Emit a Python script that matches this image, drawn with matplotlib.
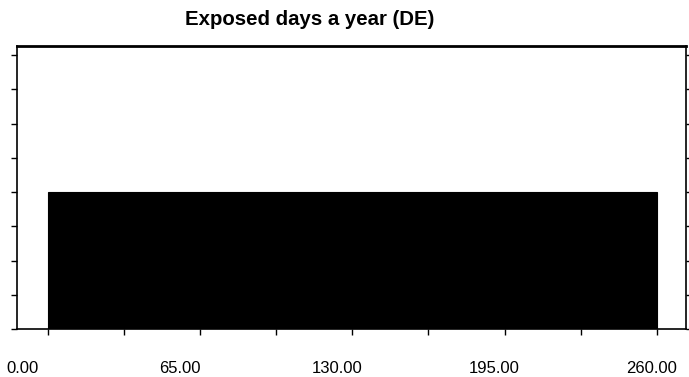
import matplotlib
matplotlib.use("Agg")
from matplotlib import pyplot as plt
import numpy as np

plt.rcParams['font.family'] = ['Liberation Sans', 'DejaVu Sans']

# frequency chart data (uniform spread of exposed days)
bin_left = [0.0]
bin_width = [260.0]
bin_height = [4.0]
tick_values = [0.0, 65.0, 130.0, 195.0, 260.0]
tick_labels = ["0.00", "65.00", "130.00", "195.00", "260.00"]
title = "Exposed days a year (DE)"

fig = plt.figure(figsize=(6.89, 3.77), dpi=100)
ax = fig.add_axes([0.0247, 0.1273, 0.9709, 0.7507])

ax.bar(bin_left, bin_height, width=bin_width, align="edge",
       color="black", edgecolor="black", linewidth=0.8)

ax.set_xlim(-13.3, 272.5)
ax.set_ylim(0, 8.27)

# minor ticks halfway between majors, labels placed by hand further down
ax.set_xticks(tick_values)
ax.set_xticks([32.5, 97.5, 162.5, 227.5], minor=True)
ax.set_xticklabels([])
ax.tick_params(axis="x", which="both", direction="out", length=4, width=1)

ax.set_yticks(np.arange(0, 9))
ax.set_yticklabels([])
ax.tick_params(axis="y", which="both", direction="out", length=4, width=1,
               left=True, right=True)

for s in ["left", "bottom", "right"]:
    ax.spines[s].set_linewidth(1.2)
ax.spines["top"].set_linewidth(2.0)

# labels sit a bit left of their ticks in the original
n = len(tick_labels)
for i, lab in enumerate(tick_labels):
    xpos = -11.1 + i * (257.9 + 11.1) / (n - 1)
    ax.text(xpos, -0.138, lab, transform=ax.get_xaxis_transform(),
            ha="center", va="center", fontsize=12)

fig.text(0.45, 0.947, title, ha="center", va="center",
         fontsize=14.7, fontweight="bold")

fig.savefig("out.png", dpi=100)
